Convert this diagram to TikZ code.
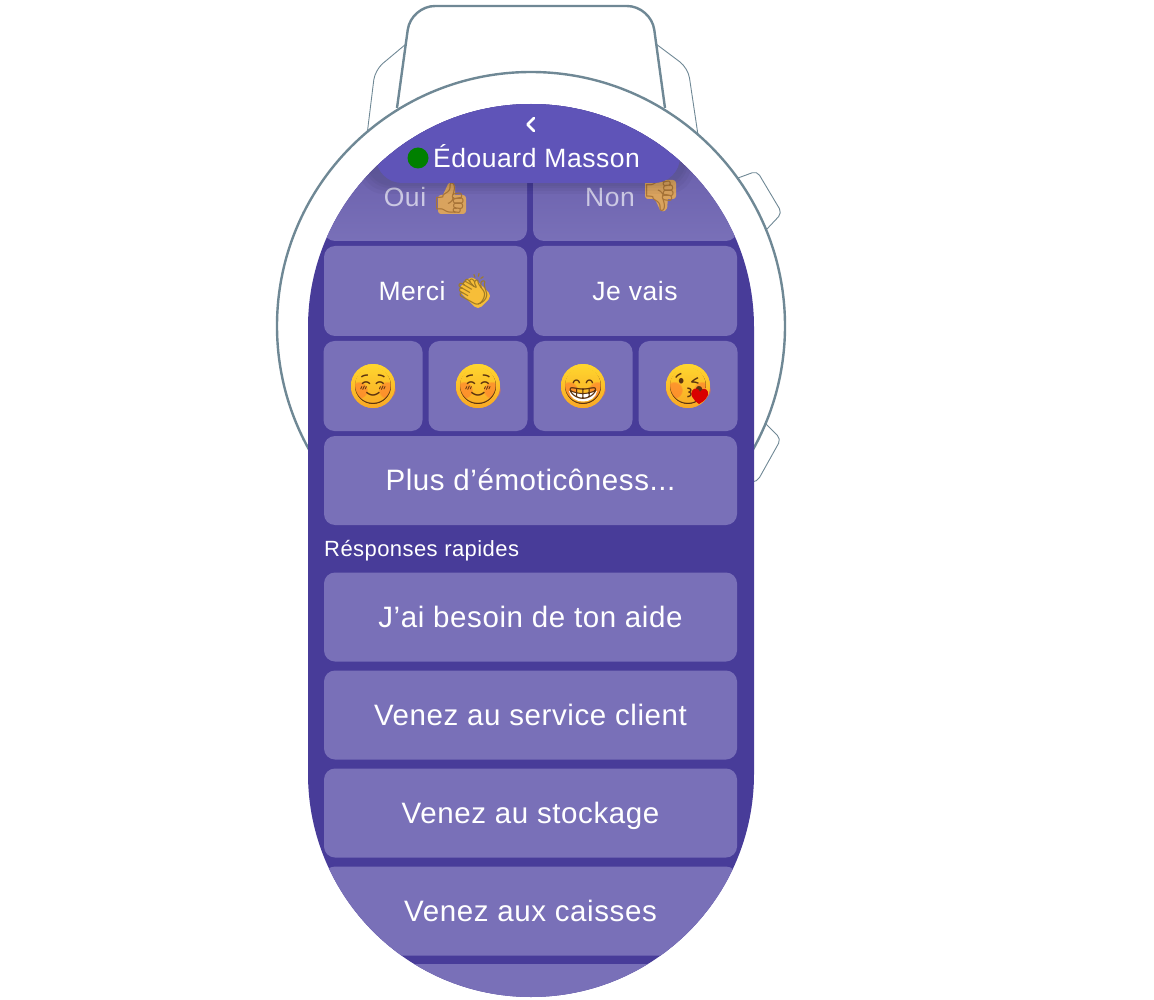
\documentclass[tikz,border=0pt]{standalone}
\usepackage{fontspec}
\setmainfont[LetterSpace=2]{Liberation Sans}
\newfontfamily\emojifont{Noto Emoji}
\usetikzlibrary{positioning,fadings}
\definecolor{screenbg}{HTML}{483C99}
\definecolor{headbg}{HTML}{5F54B8}
\definecolor{btnbg}{HTML}{7970B8}
\definecolor{btnfade}{HTML}{675CAA}
\definecolor{watchline}{HTML}{6F8895}
\definecolor{facetop}{HTML}{FFD62E}
\definecolor{facebot}{HTML}{F9A825}
\definecolor{faceblush}{HTML}{FF7A2E}
\definecolor{faceline}{HTML}{5A3210}
\definecolor{thumbc}{HTML}{D9A35E}
\definecolor{thumbl}{HTML}{A87438}
\definecolor{clapc}{HTML}{F7BE38}
\tikzset{
  btn/.style={fill=btnbg, rounded corners=11pt, inner sep=0pt, text=white, text height=20pt, text depth=0pt, font=\fontsize{29.5}{30}\selectfont},
  btnsmall/.style={btn, font=\fontsize{26.5}{30}\selectfont},
  btnfaded/.style={btn, fill=none, top color=btnfade, bottom color=btnbg},
  fadedtext/.style={text=white!62!btnbg, inner sep=0pt, text height=20pt, text depth=0pt, font=\fontsize{26.5}{30}\selectfont},
  watchthick/.style={draw=watchline, line width=2.4pt},
  watchthin/.style={draw=watchline, line width=0.9pt},
  face/.style={circle, minimum size=44pt, inner sep=0pt, top color=facetop, bottom color=facebot},
  blush/.style={faceblush, opacity=0.6, path fading=circle with fuzzy edge 20 percent},
  glyph/.style={inner sep=0pt, text=faceline, font=\emojifont\fontsize{38}{38}\selectfont},
  handglyph/.style={inner sep=0pt, font=\emojifont\fontsize{30}{30}\selectfont},
}
\begin{document}
\begin{tikzpicture}[x=1pt,y=-1pt]
  \useasboundingbox (0,0) rectangle (1154,1000);
  % strap and lugs
  \draw[watchthin, rounded corners=10pt] (367,135) -- (375,70) -- (406,44);
  \draw[watchthin, rounded corners=10pt] (656,44) -- (688,68) -- (698,135);
  \draw[watchthick, rounded corners=24pt] (397,108) -- (411,6) -- (651,6) -- (665,108);
  % crown buttons
  \draw[watchthin, rounded corners=5pt] (738,178) -- (757,171) -- (782,213) -- (767,229);
  \draw[watchthin, rounded corners=5pt] (766,424) -- (781,439) -- (757,482) -- (750,482);
  % case
  \draw[watchthick, fill=white] (531,326) circle (254);
  % screen
  \fill[screenbg] (308,327) arc (180:360:223) -- (754,774) arc (0:180:223) -- cycle;
  \begin{scope}
    \clip (308,327) arc (180:360:223) -- (754,774) arc (0:180:223) -- cycle;
    \fill[headbg] (308,100) rectangle (754,150);
    % first row, under the header
    \node[btnfaded, minimum width=203pt, minimum height=100pt] (oui) at (425.5,191) {};
    \node[btnfaded, minimum width=204pt, minimum height=100pt] (non) at (635,191) {};
    \node[fadedtext] (ouilabel) at (405,197) {Oui};
    \node[fadedtext] (nonlabel) at (610,197) {Non};
    % hands: a flat colour below each glyph
    \fill[thumbc, rounded corners=3pt] (438,195) rectangle (466,214);
    \fill[thumbc, rounded corners=2pt] (442,197) -- (449,182) -- (455,184) -- (455,197) -- cycle;
    \node[handglyph, text=thumbl] (thumbup) at (450,198) {\char"1F44D};
    \fill[thumbc, rounded corners=3pt] (645,180) rectangle (676,199);
    \fill[thumbc, rounded corners=2pt] (654,197) -- (661,212) -- (667,210) -- (668,197) -- cycle;
    \node[handglyph, text=thumbl] (thumbdown) at (660,196) {\char"1F44E};
    % second row
    \node[btnsmall, minimum width=203pt, minimum height=90pt] (merci) at (425.5,291) {\hspace*{-27pt}Merci};
    \node[btnsmall, minimum width=204pt, minimum height=90pt] (jevais) at (635,291) {Je vais};
    \fill[clapc, rotate around={-45:(473,291)}, rounded corners=5pt] (461,281) rectangle (490,301);
    \node[handglyph, text=clapc!65!black, rotate=15] (clap) at (473,291) {\char"1F44F};
    % emoji row
    \foreach \name/\x/\code/\teeth in {emojia/373/263A/0, emojib/478/263A/0, emojic/583/1F601/1, emojid/688/1F618/0} {
      \node[btn, minimum width=99pt, minimum height=90pt] (\name) at (\x,386) {};
      \node[face] (\name face) at (\x,386) {};
      \fill[blush] (\x-14,390) circle (9);
      \fill[blush] (\x+14,390) circle (9);
      \fill[white, opacity=\teeth] (\x-14,391) .. controls (\x-6,394) and (\x+6,394) .. (\x+14,391)
        .. controls (\x+12,405) and (\x-12,405) .. (\x-14,391) -- cycle;
      \node[glyph] (\name glyph) at (\x,386) {\char"\code};
      \shade[top color=facetop, bottom color=facebot, even odd rule] (\x,386) circle (22) circle (18.2);
    }
    \fill[red!85!black] (699,404) .. controls (692,399) and (690,394) .. (692,391)
      .. controls (694,387) and (699,388) .. (700,392)
      .. controls (702,388) and (707,388) .. (708,392) .. controls (709,396) and (705,401) .. (699,404) -- cycle;
    % more emoji
    \node[btn, minimum width=413pt, minimum height=89pt] (plus) at (530.5,480.5) {Plus d’émoticôness...};
    \node[anchor=west, inner sep=0pt, text=white, text height=16pt, text depth=2pt, font=\fontsize{22}{24}\selectfont] (rapides) at (324,549) {Résponses rapides};
    % quick answers
    \foreach \name/\y/\txt in {aide/617/J’ai besoin de ton aide, client/715/Venez au service client, stockage/813/Venez au stockage, caisses/911/Venez aux caisses} {
      \node[btn, minimum width=413pt, minimum height=89pt] (\name) at (530.5,\y) {\txt};
    }
    \node[btn, minimum width=413pt, minimum height=70pt] (suite) at (530.5,999) {};
    % header with its shadow
    \foreach \d in {10,7,4,2} {
      \fill[black, opacity=0.03, rounded corners=26pt] (368-\d,90) rectangle (684+\d,184+\d);
    }
    \fill[headbg, rounded corners=26pt] (376,90) rectangle (680,183);
  \end{scope}
  % header contents
  \draw[white, line width=2.6pt, line cap=round, line join=round] (534,118) -- (527.5,124.5) -- (534,131);
  \fill[green!50!black] (418,158) circle (10.5);
  \node[anchor=west, inner sep=0pt, text=white, text height=20pt, text depth=0pt, font=\fontsize{26.5}{30}\selectfont] (nom) at (433,158) {Édouard Masson};
\end{tikzpicture}
\end{document}
